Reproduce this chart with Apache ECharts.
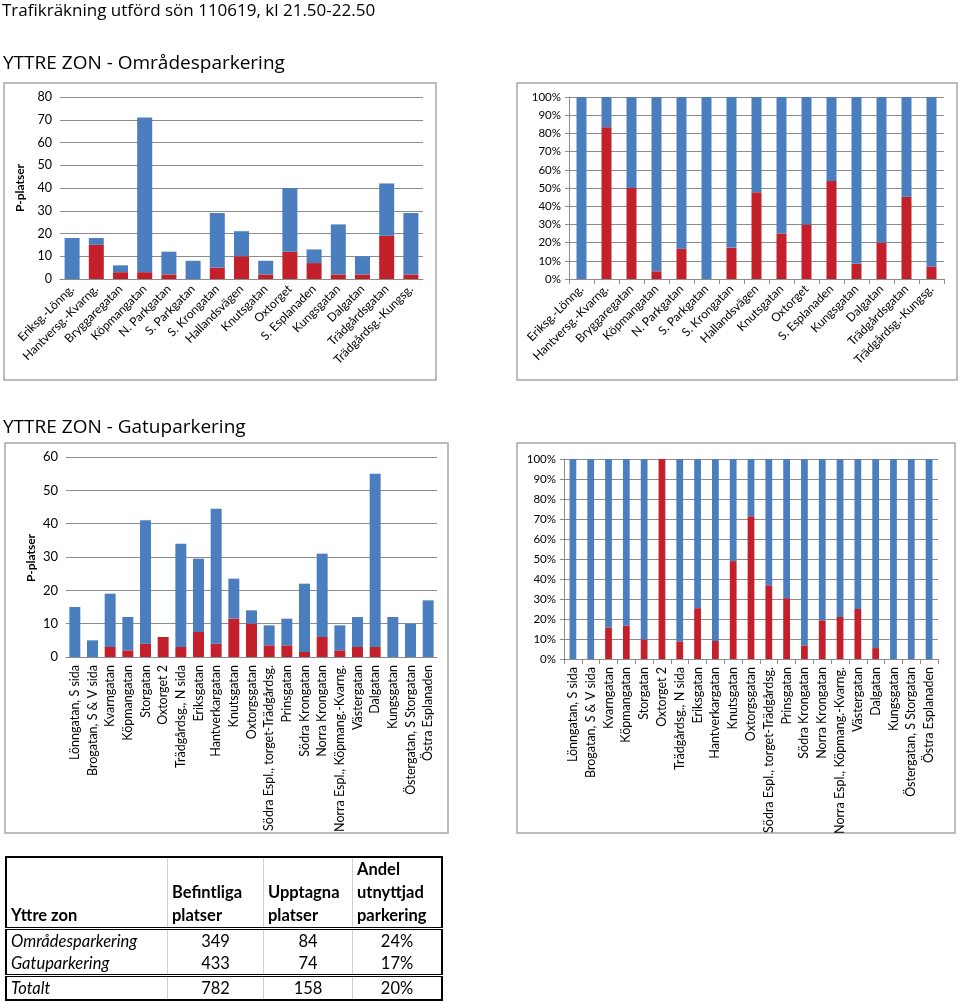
<!DOCTYPE html>
<html><head><meta charset="utf-8">
<script src="https://cdn.jsdelivr.net/npm/echarts@6/dist/echarts.min.js"></script>
<style>
html,body{margin:0;padding:0;background:#fff;}
#c{position:absolute;left:0;top:0;width:960px;height:1003px;}
#tbl{position:absolute;left:5px;top:856px;width:438px;border-collapse:collapse;font-family:Lato,"Open Sans",sans-serif;font-size:16.5px;color:#000;border:2px solid #000;}
#tbl td{padding:0 4px;border-left:1px solid #d0d0d0;line-height:22px;}
#tbl td:first-child{border-left:none;}
#tbl tr.h td{font-weight:bold;vertical-align:bottom;height:69px;line-height:23px;text-align:left;border-bottom:3px double #000;}
#tbl td.n{text-align:center;}
#tbl td.i{font-style:italic;}
#tbl tr.t td{border-top:3px double #000;}
</style></head><body>
<div id="c"></div>
<table id="tbl">
<tr class="h"><td style="width:152px">Yttre zon</td><td style="width:87px">Befintliga<br>platser</td><td style="width:80px">Upptagna<br>platser</td><td>Andel<br>utnyttjad<br>parkering</td></tr>
<tr><td class="i">Områdesparkering</td><td class="n">349</td><td class="n">84</td><td class="n">24%</td></tr>
<tr><td class="i">Gatuparkering</td><td class="n">433</td><td class="n">74</td><td class="n">17%</td></tr>
<tr class="t"><td class="i">Totalt</td><td class="n">782</td><td class="n">158</td><td class="n">20%</td></tr>
</table>
<script>
// Områdesparkering
const zoneCats = ['Eriksg.-Lönng.','Hantversg.-Kvarng.','Bryggaregatan','Köpmangatan','N. Parkgatan','S. Parkgatan','S. Krongatan','Hallandsvägen','Knutsgatan','Oxtorget','S. Esplanaden','Kungsgatan','Dalgatan','Trädgårdsgatan','Trädgårdsg.-Kungsg.'];
const zoneTotal = [18,18,6,71,12,8,29,21,8,40,13,24,10,42,29];
const zoneOccupied = [0,15,3,3,2,0,5,10,2,12,7,2,2,19,2];
// Gatuparkering
const streetCats = ['Lönngatan, S sida','Brogatan, S & V sida','Kvarngatan','Köpmangatan','Storgatan','Oxtorget 2','Trädgårdsg., N sida','Eriksgatan','Hantverkargatan','Knutsgatan','Oxtorgsgatan','Södra Espl., torget-Trädgårdsg.','Prinsgatan','Södra Krongatan','Norra Krongatan','Norra Espl., Köpmang.-Kvarng.','Västergatan','Dalgatan','Kungsgatan','Östergatan, S Storgatan','Östra Esplanaden'];
const streetTotal = [15,5,19,12,41,6,34,29.5,44.5,23.5,14,9.5,11.5,22,31,9.5,12,55,12,10,17];
const streetOccupied = [0,0,3,2,4,6,3,7.5,4,11.5,10,3.5,3.5,1.5,6,2,3,3,0,0,0];
const yName = 'P-platser';

const RED = '#C3202B', BLUE = '#4A7EBE', GRID = '#8C8C8C';
const FONT = 'Lato, "Open Sans", sans-serif';

const free = (t,o) => t.map((v,i) => +(v - o[i]).toFixed(2));
const pctOcc = (t,o) => t.map((v,i) => +(o[i]/v*100).toFixed(2));
const pctFree = (t,o) => t.map((v,i) => +(100 - o[i]/v*100).toFixed(2));

const chart = echarts.init(document.getElementById('c'));

function xAx(gi, cats, rot, ticks, fs){
  return {type:'category', gridIndex:gi, data:cats,
    axisLine:{lineStyle:{color:GRID}},
    axisTick:{show:ticks, length:5, lineStyle:{color:GRID}},
    axisLabel:{interval:0, rotate:rot, color:'#000', fontSize:fs, fontFamily:FONT, margin:8, overflow:'none'}};
}
function yAx(gi, max, pct, fs){
  return {type:'value', gridIndex:gi, min:0, max:max, interval:10,
    axisLine:{show:pct, lineStyle:{color:GRID}},
    axisTick:{show:pct, length:4, lineStyle:{color:GRID}},
    splitLine:{lineStyle:{color:GRID, width:1}},
    axisLabel:{color:'#000', fontSize:fs, fontFamily:FONT, formatter: pct ? '{value}%' : '{value}'}};
}
function bars(gi, red, blue, w){
  return [
    {type:'bar', xAxisIndex:gi, yAxisIndex:gi, stack:'s'+gi, data:red, barWidth:w, itemStyle:{color:RED}, silent:true},
    {type:'bar', xAxisIndex:gi, yAxisIndex:gi, stack:'s'+gi, data:blue, barWidth:w, itemStyle:{color:BLUE}, silent:true}
  ];
}

const box = (x,y,w,h) => ({type:'rect', shape:{x:x,y:y,width:w,height:h}, style:{fill:'none', stroke:'#A6A6A6', lineWidth:1.5}, z:-1});
const vname = (x,y) => ({type:'text', x:x, y:y, rotation:Math.PI/2, style:{text:yName, fontSize:12, fontWeight:'bold', fontFamily:FONT, fill:'#000', align:'center', verticalAlign:'middle'}});

chart.setOption({
  animation:false,
  textStyle:{fontFamily:FONT},
  title:[
    {text:'Trafikräkning utförd sön 110619, kl 21.50-22.50', left:-3, top:-2, textStyle:{fontSize:17, fontWeight:'normal', color:'#000', fontFamily:'"Open Sans", sans-serif'}},
    {text:'YTTRE ZON - Områdesparkering', left:-2, top:49, textStyle:{fontSize:19, fontWeight:'normal', color:'#000', fontFamily:'"Open Sans", sans-serif'}},
    {text:'YTTRE ZON - Gatuparkering', left:-2, top:413, textStyle:{fontSize:19, fontWeight:'normal', color:'#000', fontFamily:'"Open Sans", sans-serif'}}
  ],
  graphic:[ box(4,83,432,297), box(517,83,440,297), box(5,443,443,390), box(517,443,438,390), vname(20,188), vname(31,558) ],
  grid:[
    {left:60, top:97, width:363, height:182},
    {left:569, top:97, width:375, height:182},
    {left:66, top:457, width:371, height:200},
    {left:564, top:459, width:374, height:200}
  ],
  xAxis:[ xAx(0,zoneCats,45,false,12), xAx(1,zoneCats,45,true,12), xAx(2,streetCats,90,false,12.5), xAx(3,streetCats,90,true,12.5) ],
  yAxis:[ yAx(0,80,false,12.5), yAx(1,100,true,11.5), yAx(2,60,false,13), yAx(3,100,true,11.5) ],
  series:[].concat(
    bars(0, zoneOccupied, free(zoneTotal,zoneOccupied), '62%'),
    bars(1, pctOcc(zoneTotal,zoneOccupied), pctFree(zoneTotal,zoneOccupied), '40%'),
    bars(2, streetOccupied, free(streetTotal,streetOccupied), '62%'),
    bars(3, pctOcc(streetTotal,streetOccupied), pctFree(streetTotal,streetOccupied), '38%')
  )
});
</script>
</body></html>
